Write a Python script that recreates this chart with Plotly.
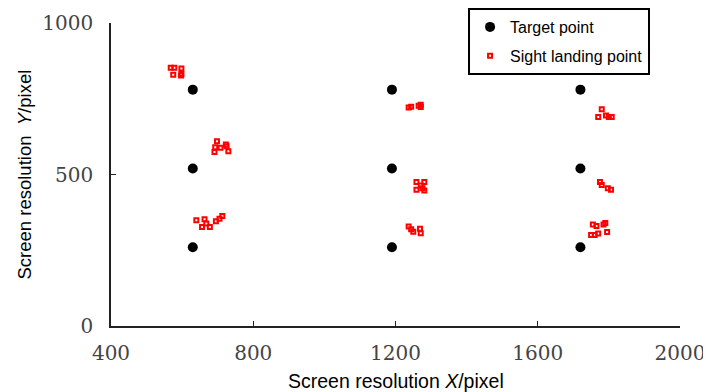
import plotly.graph_objects as go

# Target points
target_x = [630, 630, 630, 1190, 1190, 1190, 1720, 1720, 1720]
target_y = [780, 520, 260, 780, 520, 260, 780, 520, 260]

# Sight landing points
sight_x = [568, 578, 598, 575, 598, 597,
           698, 723, 693, 708, 691, 730, 725,
           640, 663, 656, 668, 678, 695, 705, 713,
           1237, 1244, 1265, 1271, 1271,
           1259, 1281, 1259, 1276, 1281, 1271,
           1237, 1244, 1250, 1269, 1271,
           1770, 1780, 1792, 1800, 1808,
           1775, 1780, 1797, 1806,
           1750, 1760, 1770, 1755, 1765, 1790, 1795, 1785]
sight_y = [852, 852, 850, 829, 832, 827,
           610, 599, 590, 588, 574, 577, 593,
           349, 352, 327, 338, 327, 346, 354, 363,
           721, 724, 727, 730, 723,
           475, 475, 450, 455, 447, 464,
           328, 319, 311, 321, 306,
           690, 715, 695, 690, 690,
           475, 465, 455, 450,
           300, 300, 305, 335, 330, 340, 310, 335]

x_ticks = [400, 800, 1200, 1600, 2000]
y_ticks = [0, 500, 1000]

fig = go.Figure()
fig.add_trace(go.Scatter(
    x=target_x, y=target_y, mode="markers", name="Target point",
    legendgroup="a",
    marker=dict(symbol="circle", size=10, color="black"),
))
fig.add_trace(go.Scatter(
    x=sight_x, y=sight_y, mode="markers", name="Sight landing point",
    legendgroup="b",
    marker=dict(symbol="square-open", size=4, color="#ff0000",
                line=dict(width=2, color="#ff0000")),
))

axis_common = dict(
    showgrid=False, zeroline=False, showline=True, linecolor="#222222",
    linewidth=1.5, ticks="inside", ticklen=5, tickwidth=1.2, tickcolor="#222222",
    tickfont=dict(family="DejaVu Serif", size=20, color="#444444"),
    mirror=False,
)

fig.update_xaxes(range=[400, 2000], tickvals=x_ticks,
                 ticktext=[str(v) for v in x_ticks], **axis_common)
fig.update_yaxes(range=[0, 1000], tickvals=y_ticks,
                 ticktext=[str(v) for v in y_ticks], **axis_common)
fig.update_xaxes(ticklabelstandoff=8)
fig.update_yaxes(ticklabelstandoff=12)

fig.add_annotation(text="Screen resolution <i>X</i>/pixel", xref="paper", yref="paper",
                   x=0.50, y=0, yshift=-55, xanchor="center", yanchor="middle",
                   showarrow=False,
                   font=dict(family="Liberation Sans", size=19.5, color="black"))
fig.add_annotation(text="Screen resolution  <i>Y</i>/pixel", xref="paper", yref="paper",
                   x=0, xshift=-87, y=0.5, xanchor="center", yanchor="middle",
                   textangle=-90, showarrow=False,
                   font=dict(family="Liberation Sans", size=18.5, color="black"))

# page body adds an 8px offset; margins compensate
fig.update_layout(
    width=711, height=392,
    margin=dict(l=103, r=39, t=15, b=74, autoexpand=False),
    plot_bgcolor="white", paper_bgcolor="white",
    showlegend=True,
    legend=dict(x=0.6275, y=1.0495, xanchor="left", yanchor="top",
                bgcolor="white", bordercolor="black", borderwidth=2,
                font=dict(family="Liberation Sans", size=16, color="black"),
                itemwidth=30, traceorder="grouped", tracegroupgap=5),
)

fig.write_html("out.html")
